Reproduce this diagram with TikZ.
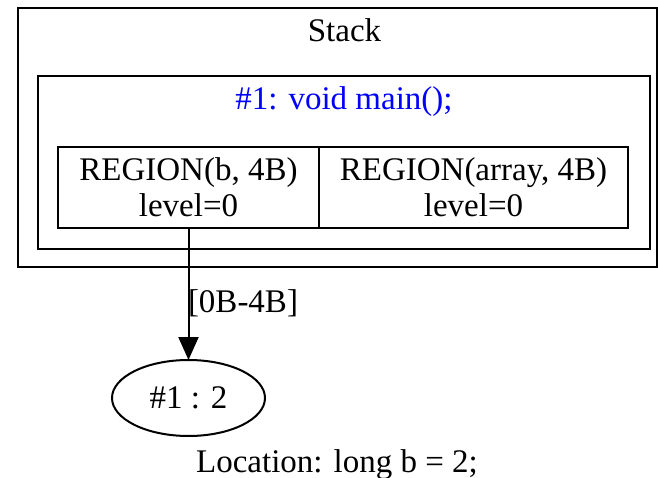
\documentclass[tikz,border=0pt]{standalone}
\usepackage{fontspec}
\setmainfont{Liberation Serif}
\usetikzlibrary{shapes.geometric,arrows.meta}

\begin{document}
\begin{tikzpicture}[
  x=1pt, y=-1pt,
  line width=2pt,
  lbl/.style={inner sep=0pt, font=\fontsize{33}{36}\selectfont},
  cluster/.style={draw, rectangle, inner sep=0pt, outer sep=0pt, anchor=north west},
  cell/.style={cluster, lbl, align=center, minimum height=81pt},
]
\useasboundingbox (0,0) rectangle (658,478);

% nested clusters
\node [cluster, minimum width=639pt, minimum height=259pt] (stack) at (18,8) {};
\node [lbl, anchor=base] (stacklbl) at (344.5,42) {Stack};
\node [cluster, minimum width=612pt, minimum height=173pt] (frame) at (38,76) {};
\node [lbl, anchor=base, text=blue] (framelbl) at (344,110) {\#1: void main();};

% record with two regions
\node [cell, minimum width=261pt] (regb) at (58,147) {REGION(b, 4B)\\level=0};
\node [cell, minimum width=309pt] (regarray) at (regb.north east) {REGION(array, 4B)\\level=0};

\node [draw, ellipse, lbl, outer sep=0pt, minimum width=153pt, minimum height=76pt] (loc) at (188.5,398) {\#1 : 2};

\draw [-{Triangle[length=23pt,width=20pt]}] (regb.south) -- (loc.north);
\node [lbl, anchor=base west] (edgelbl) at (187,312) {[0B-4B]};

\node [lbl, anchor=base] (caption) at (337,472) {Location: long b = 2;};

\end{tikzpicture}
\end{document}
